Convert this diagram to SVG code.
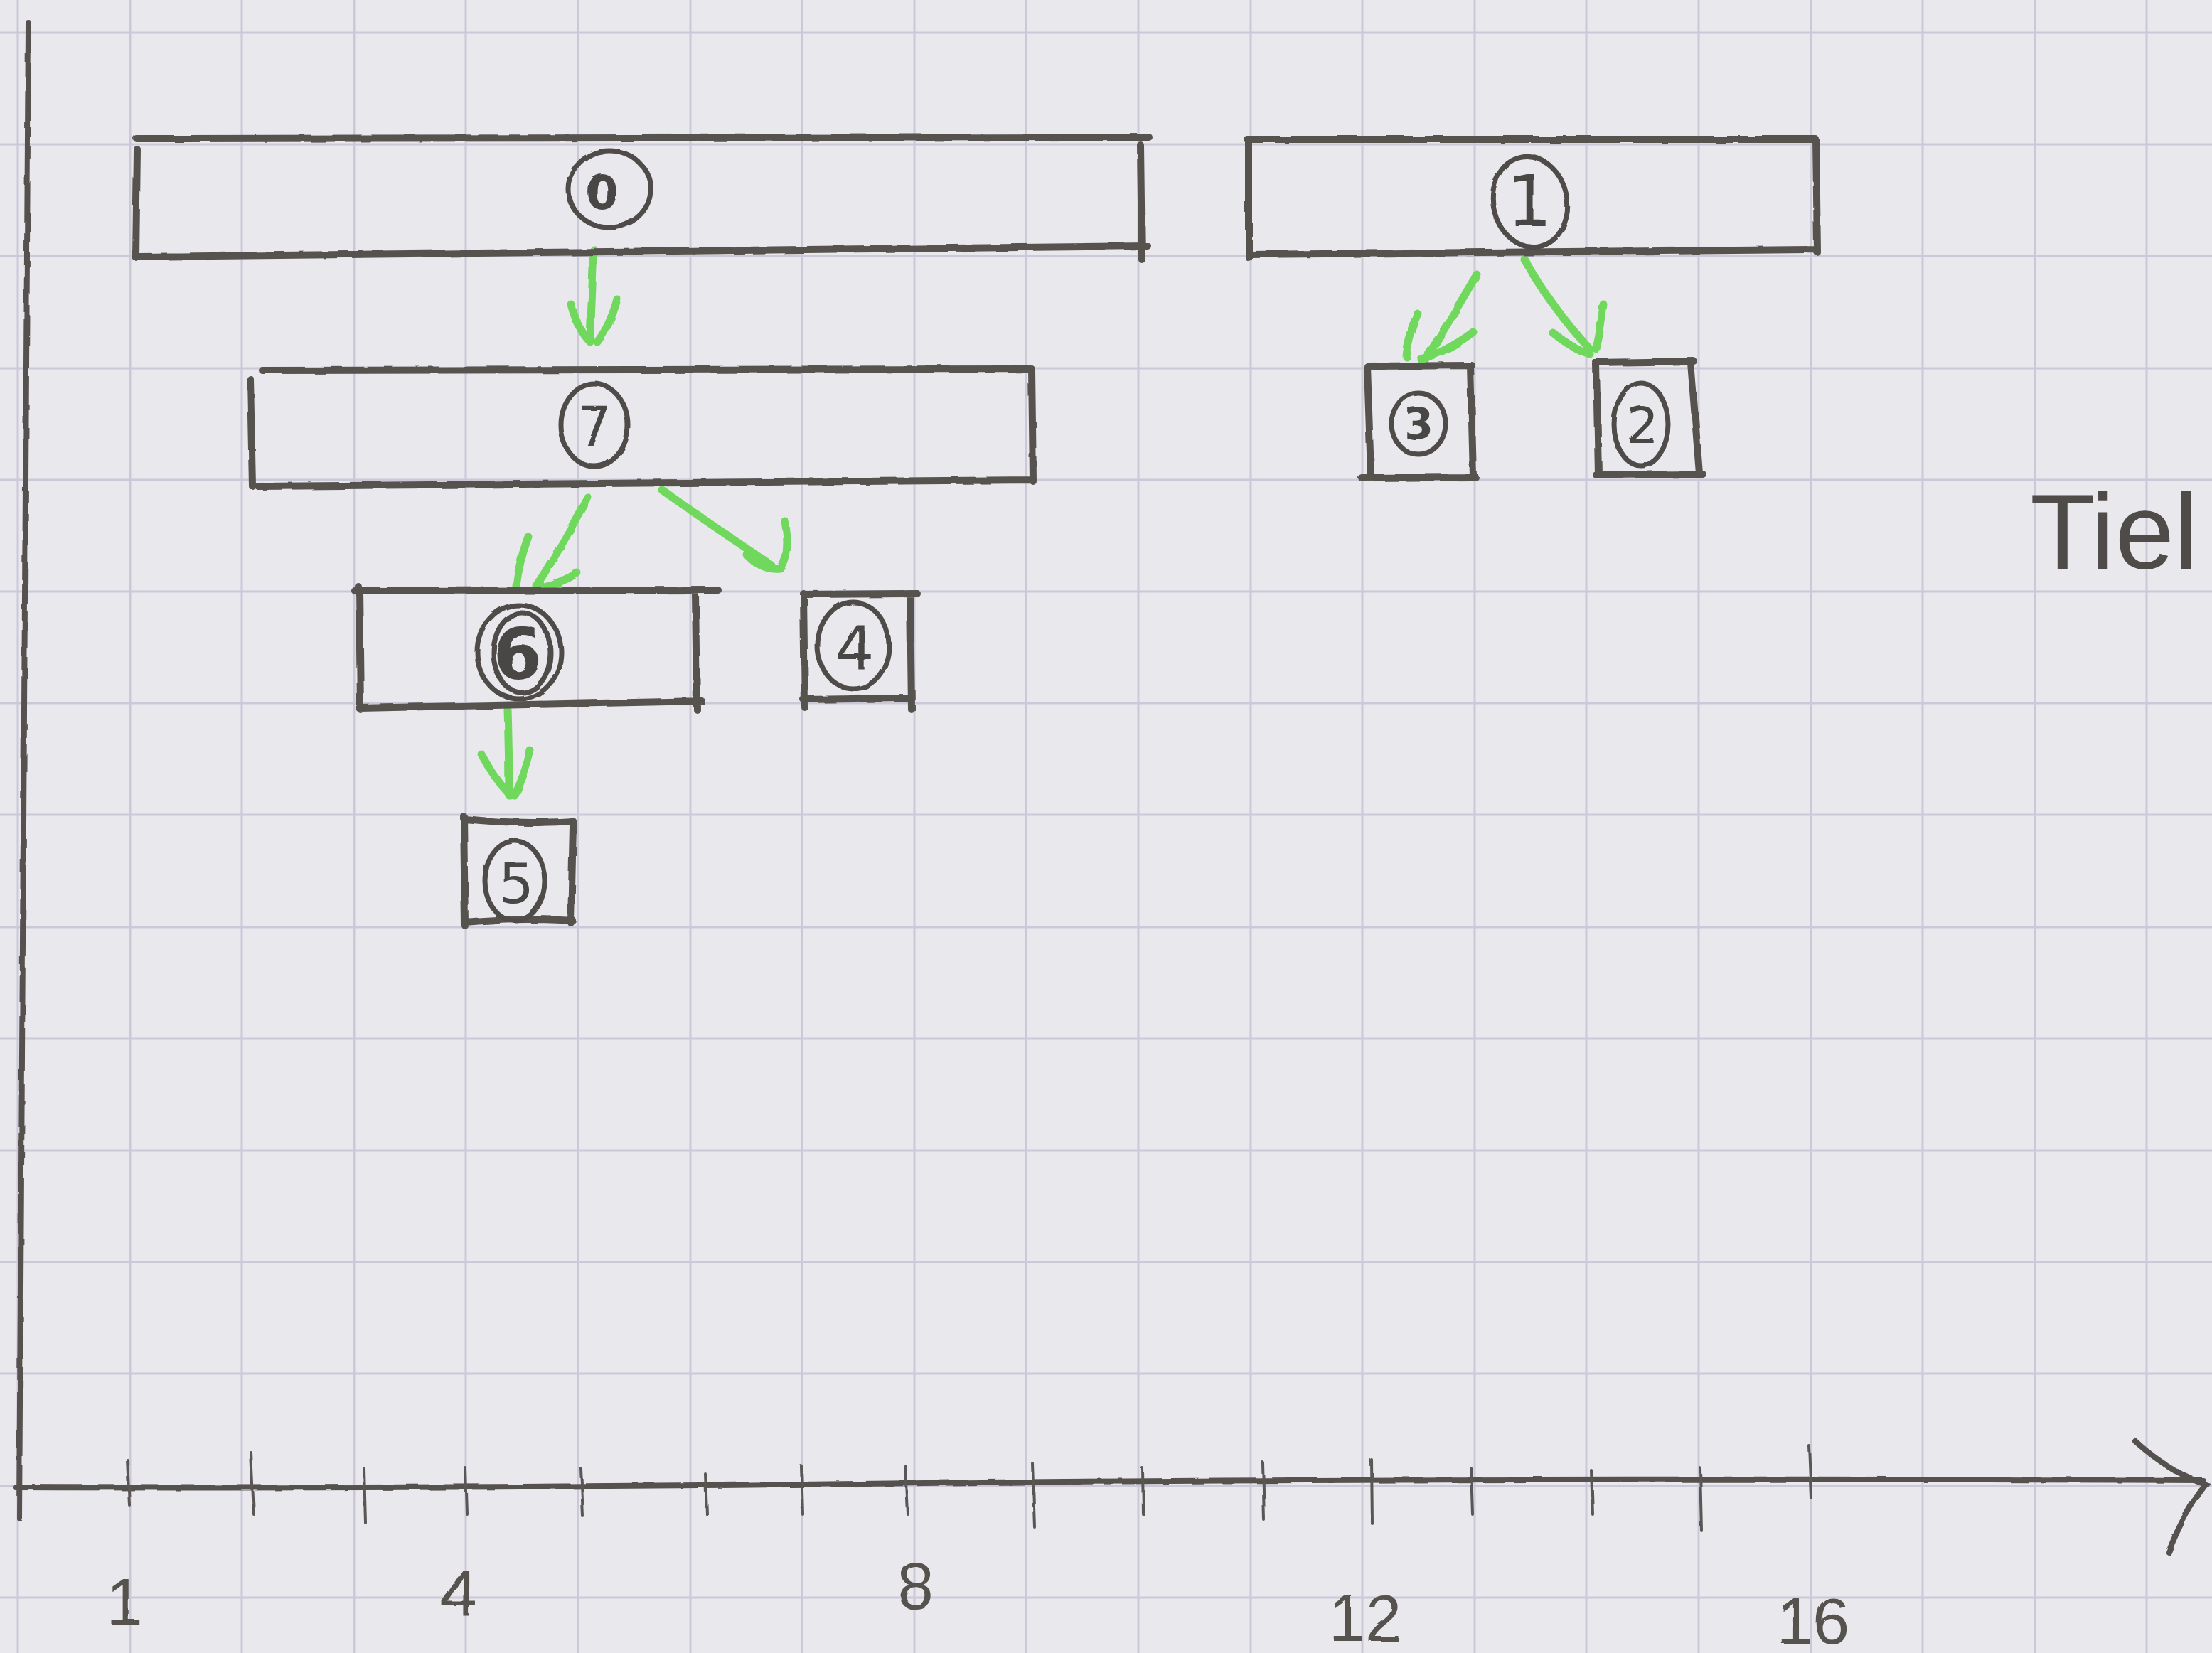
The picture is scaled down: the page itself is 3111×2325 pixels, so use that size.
<svg xmlns="http://www.w3.org/2000/svg" width="3111" height="2325" viewBox="0 0 3111 2325">
<style>
.paper{fill:#e9e9ed}
.grid line{stroke:#cbc8d8;stroke-width:3}
.pencil{fill:none;stroke:#575350;stroke-width:10;stroke-linecap:round;stroke-linejoin:round}
.axis{fill:none;stroke:#55514f;stroke-width:8;stroke-linecap:round}
.tick{fill:none;stroke:#5a5654;stroke-width:4;stroke-linecap:round}
.ring{fill:none;stroke:#4f4b49;stroke-width:7}
.num{font-family:"DejaVu Sans",sans-serif;fill:#4a4644;text-anchor:middle;dominant-baseline:central}
.lbl{font-family:"Liberation Sans",sans-serif;font-size:92px;fill:#57534f;text-anchor:middle}
.arrow{fill:none;stroke:#6fd85c;stroke-width:11;stroke-linecap:round;stroke-linejoin:round}
</style>
<defs>
<filter id="rough" x="-5%" y="-5%" width="110%" height="110%">
<feTurbulence type="fractalNoise" baseFrequency="0.03" numOctaves="2" seed="3"/>
<feDisplacementMap in="SourceGraphic" scale="4"/>
</filter>
</defs>
<rect class="paper" x="0" y="0" width="3111" height="2325"/>
<g class="grid" id="grid">
<line x1="25" y1="0" x2="25" y2="2325"/>
<line x1="183" y1="0" x2="183" y2="2325"/>
<line x1="340" y1="0" x2="340" y2="2325"/>
<line x1="498" y1="0" x2="498" y2="2325"/>
<line x1="655" y1="0" x2="655" y2="2325"/>
<line x1="813" y1="0" x2="813" y2="2325"/>
<line x1="971" y1="0" x2="971" y2="2325"/>
<line x1="1128" y1="0" x2="1128" y2="2325"/>
<line x1="1286" y1="0" x2="1286" y2="2325"/>
<line x1="1443" y1="0" x2="1443" y2="2325"/>
<line x1="1601" y1="0" x2="1601" y2="2325"/>
<line x1="1759" y1="0" x2="1759" y2="2325"/>
<line x1="1916" y1="0" x2="1916" y2="2325"/>
<line x1="2074" y1="0" x2="2074" y2="2325"/>
<line x1="2231" y1="0" x2="2231" y2="2325"/>
<line x1="2389" y1="0" x2="2389" y2="2325"/>
<line x1="2547" y1="0" x2="2547" y2="2325"/>
<line x1="2704" y1="0" x2="2704" y2="2325"/>
<line x1="2862" y1="0" x2="2862" y2="2325"/>
<line x1="3019" y1="0" x2="3019" y2="2325"/>
<line x1="0" y1="46" x2="3111" y2="46"/>
<line x1="0" y1="203" x2="3111" y2="203"/>
<line x1="0" y1="360" x2="3111" y2="360"/>
<line x1="0" y1="518" x2="3111" y2="518"/>
<line x1="0" y1="675" x2="3111" y2="675"/>
<line x1="0" y1="832" x2="3111" y2="832"/>
<line x1="0" y1="989" x2="3111" y2="989"/>
<line x1="0" y1="1146" x2="3111" y2="1146"/>
<line x1="0" y1="1304" x2="3111" y2="1304"/>
<line x1="0" y1="1461" x2="3111" y2="1461"/>
<line x1="0" y1="1618" x2="3111" y2="1618"/>
<line x1="0" y1="1775" x2="3111" y2="1775"/>
<line x1="0" y1="1932" x2="3111" y2="1932"/>
<line x1="0" y1="2090" x2="3111" y2="2090"/>
<line x1="0" y1="2247" x2="3111" y2="2247"/>
</g>
<g id="axes" filter="url(#rough)">
<path class="axis" d="M40,32 L34,1000 L27,2135"/>
<path class="axis" d="M22,2092 Q600,2094 1300,2086 T3098,2082"/>
<path class="axis" d="M3003,2027 Q3050,2070 3102,2088 Q3070,2130 3050,2183"/>
<path class="tick" d="M179,2053 L182,2117 M353,2043 L357,2130 M512,2065 L514,2142 M655,2065 L657,2130 M817,2065 L820,2133 M992,2073 L994,2130 M1127,2062 L1129,2130 M1274,2062 L1277,2130 M1452,2058 L1455,2148 M1607,2065 L1608,2130 M1776,2057 L1778,2138 M1929,2053 L1930,2143 M2069,2065 L2071,2130 M2238,2068 L2240,2130 M2391,2065 L2393,2153 M2544,2033 L2547,2107"/>
<text class="lbl" x="175" y="2285">1</text>
<text class="lbl" x="645" y="2272">4</text>
<text class="lbl" x="1288" y="2263">8</text>
<text class="lbl" x="1920" y="2308">12</text>
<text class="lbl" x="2550" y="2312">16</text>
</g>
<text id="axis-title" x="2855" y="800" font-family="Liberation Sans, sans-serif" font-size="150" fill="#4f4b49">Tiel</text>
<g id="connectors" filter="url(#rough)">
<path class="arrow" d="M835,351 Q832,420 830,478 M803,428 Q812,462 830,481 M868,421 Q858,458 840,481"/>
<path class="arrow" d="M826,699 Q790,770 754,824 M743,755 Q730,790 726,824 M812,806 Q790,820 760,826"/>
<path class="arrow" d="M932,690 Q1010,745 1085,795 M1104,733 Q1112,780 1098,800 Q1070,802 1050,780"/>
<path class="arrow" d="M714,998 Q716,1060 716,1119 M677,1061 Q695,1095 718,1119 M746,1056 Q738,1090 724,1119"/>
<path class="arrow" d="M2077,386 Q2040,450 2005,505 M1995,442 Q1980,475 1978,502 M2072,467 Q2035,495 1998,505"/>
<path class="arrow" d="M2144,365 Q2180,430 2236,491 M2183,467 Q2210,490 2236,498 M2255,428 Q2252,460 2245,491"/>
</g>
<g id="node0" filter="url(#rough)">
<path class="pencil" d="M192,195 L1616,193 M196,361 L1614,346 M193,210 L191,362 M1604,204 L1606,365"/>
<ellipse class="ring" cx="857" cy="266" rx="58" ry="54"/>
<text class="num" x="847" y="271" font-size="66" font-weight="bold">0</text>
</g>
<g id="node7" filter="url(#rough)">
<path class="pencil" d="M369,521 L1448,519 M363,684 L1453,675 M352,533 L355,684 M1451,519 L1453,677"/>
<ellipse class="ring" cx="836" cy="598" rx="47" ry="58"/>
<text class="num" x="836" y="600" font-size="76">7</text>
</g>
<g id="node6" filter="url(#rough)">
<path class="pencil" d="M499,831 L1010,830 M505,996 L987,986 M505,826 L507,998 M978,835 L980,998"/>
<ellipse class="ring" cx="730" cy="917" rx="59" ry="66"/>
<ellipse class="ring" cx="734" cy="918" rx="40" ry="56"/>
<text class="num" x="728" y="920" font-size="100" font-weight="bold">6</text>
</g>
<g id="node4" filter="url(#rough)">
<path class="pencil" d="M1130,836 L1290,835 M1130,984 L1280,982 M1130,835 L1132,995 M1280,835 L1282,998"/>
<ellipse class="ring" cx="1200" cy="908" rx="50" ry="61"/>
<text class="num" x="1202" y="912" font-size="86">4</text>
</g>
<g id="node5" filter="url(#rough)">
<path class="pencil" d="M654,1152 Q730,1160 806,1155 M654,1297 Q730,1290 806,1295 M652,1148 L654,1302 M806,1160 L803,1298"/>
<ellipse class="ring" cx="724" cy="1239" rx="42" ry="56"/>
<text class="num" x="726" y="1243" font-size="78">5</text>
</g>
<g id="node1" filter="url(#rough)">
<path class="pencil" d="M1754,196 L2554,196 M1756,358 L2556,351 M1756,196 L1756,362 M2554,196 L2556,355"/>
<ellipse class="ring" cx="2152" cy="284" rx="52" ry="64" transform="rotate(-12 2152 284)"/>
<text class="num" x="2150" y="282" font-size="100">1</text>
</g>
<g id="node3" filter="url(#rough)">
<path class="pencil" d="M1923,515 L2070,514 M1915,672 L2075,671 M1923,515 L1928,668 M2068,514 L2072,670"/>
<ellipse class="ring" cx="1995" cy="596" rx="38" ry="43"/>
<text class="num" x="1995" y="596" font-size="60" font-weight="bold">3</text>
</g>
<g id="node2" filter="url(#rough)">
<path class="pencil" d="M2245,510 L2382,508 M2245,668 L2395,667 M2245,512 L2248,668 M2378,510 L2390,666"/>
<ellipse class="ring" cx="2308" cy="597" rx="38" ry="58"/>
<text class="num" x="2310" y="598" font-size="72">2</text>
</g>
</svg>
